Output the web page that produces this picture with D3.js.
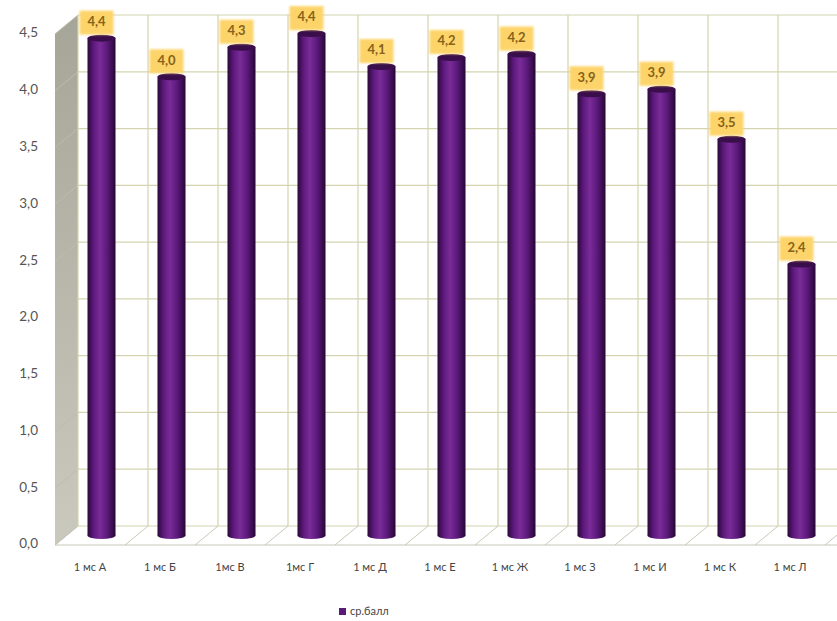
<!DOCTYPE html>
<html>
<head>
<meta charset="utf-8">
<script src="https://cdn.jsdelivr.net/npm/d3@7"></script>
<style>
  body { margin: 0; background: #fff; }
  svg { display: block; font-family: Lato, "Open Sans", sans-serif; }
</style>
</head>
<body>
<div class="graphContainer"></div>
<script>
var width = 837;
var height = 621;

// data
var categories = ["1 мс А", "1 мс Б", "1мс В", "1мс Г", "1 мс Д", "1 мс Е", "1 мс Ж", "1 мс З", "1 мс И", "1 мс К", "1 мс Л"];
var scores = [4.38, 4.04, 4.3, 4.42, 4.13, 4.21, 4.24, 3.89, 3.93, 3.49, 2.39];
var yTicks = [0, 0.5, 1, 1.5, 2, 2.5, 3, 3.5, 4, 4.5];
var seriesName = "ср.балл";

// 3d offsets: back wall -> front plane
var dx = -23, dy = 19;

var svg = d3.select(".graphContainer")
  .append("svg")
  .attr("width", width)
  .attr("height", height);

var defs = svg.append("defs");

var cyl = defs.append("linearGradient").attr("id", "cyl").attr("x1", 0).attr("x2", 1).attr("y1", 0).attr("y2", 0);
cyl.append("stop").attr("offset", "0%").attr("stop-color", "#2a0838");
cyl.append("stop").attr("offset", "22%").attr("stop-color", "#5e1a7e");
cyl.append("stop").attr("offset", "45%").attr("stop-color", "#7a2c98");
cyl.append("stop").attr("offset", "72%").attr("stop-color", "#581878");
cyl.append("stop").attr("offset", "100%").attr("stop-color", "#260634");

var wall = defs.append("linearGradient").attr("id", "wall").attr("x1", 0).attr("x2", 0).attr("y1", 0).attr("y2", 1);
wall.append("stop").attr("offset", "0%").attr("stop-color", "#a5a598");
wall.append("stop").attr("offset", "100%").attr("stop-color", "#c9c9bd");

defs.append("filter").attr("id", "soft")
  .attr("x", "-20%").attr("y", "-20%").attr("width", "140%").attr("height", "140%")
  .append("feGaussianBlur").attr("stdDeviation", 1.2);

// scales on the back wall
var xScale = d3.scaleBand().domain(categories).range([78, 848]);
var yScale = d3.scaleLinear().domain([0, 4.5]).range([526, 15]);
var bw = xScale.bandwidth();

// side wall
svg.append("path")
  .attr("d", "M" + (78 + dx) + "," + (yScale(4.5) + dy) + " L78," + yScale(4.5) +
    " L78," + yScale(0) + " L" + (78 + dx) + "," + (yScale(0) + dy) + "Z")
  .attr("fill", "url(#wall)");

var gridColor = "#d4d4b0";

// back wall horizontal gridlines
svg.selectAll(".hgrid")
  .data(yTicks)
  .enter()
  .append("line")
  .attr("x1", 78).attr("x2", width)
  .attr("y1", (d) => yScale(d)).attr("y2", (d) => yScale(d))
  .attr("stroke", gridColor).attr("stroke-width", 1.2);

// side wall gridlines
svg.selectAll(".sgrid")
  .data(yTicks)
  .enter()
  .append("line")
  .attr("x1", 78 + dx).attr("x2", 78)
  .attr("y1", (d) => yScale(d) + dy).attr("y2", (d) => yScale(d))
  .attr("stroke", "#bdbdae").attr("stroke-width", 1);

// back wall vertical gridlines
var bounds = categories.map((c) => xScale(c));
svg.selectAll(".vgrid")
  .data(bounds)
  .enter()
  .append("line")
  .attr("x1", (d) => d).attr("x2", (d) => d)
  .attr("y1", yScale(4.5)).attr("y2", yScale(0))
  .attr("stroke", gridColor).attr("stroke-width", 1.2);

// floor lines
svg.selectAll(".fgrid")
  .data(bounds.concat([xScale.range()[1]]))
  .enter()
  .append("line")
  .attr("x1", (d) => d + dx).attr("x2", (d) => d)
  .attr("y1", yScale(0) + dy).attr("y2", yScale(0))
  .attr("stroke", "#c8c8b8").attr("stroke-width", 1);
svg.append("line")
  .attr("x1", 78 + dx).attr("x2", width)
  .attr("y1", yScale(0) + dy).attr("y2", yScale(0) + dy)
  .attr("stroke", "#c8c8b8").attr("stroke-width", 1);

// cylinders
var cw = bw * 0.4;
var ry = 3.5;
var bars = svg.selectAll(".bar")
  .data(categories)
  .enter()
  .append("g")
  .attr("class", "bar");

bars.append("ellipse")
  .attr("cx", (d) => xScale(d) + bw / 2 + dx / 2)
  .attr("cy", yScale(0) + dy / 2)
  .attr("rx", cw / 2).attr("ry", ry)
  .attr("fill", "url(#cyl)");
bars.append("rect")
  .attr("x", (d) => xScale(d) + bw / 2 + dx / 2 - cw / 2)
  .attr("y", (d, i) => yScale(scores[i]) + dy / 2)
  .attr("width", cw)
  .attr("height", (d, i) => yScale(0) - yScale(scores[i]))
  .attr("fill", "url(#cyl)");
bars.append("ellipse")
  .attr("cx", (d) => xScale(d) + bw / 2 + dx / 2)
  .attr("cy", (d, i) => yScale(scores[i]) + dy / 2)
  .attr("rx", cw / 2).attr("ry", ry)
  .attr("fill", "#3a0e4a");

// data labels
var fmt = (v) => d3.format(".1f")(v).replace(".", ",");
bars.append("rect")
  .attr("x", (d) => xScale(d) + bw / 2 + dx / 2 - 5 - 17)
  .attr("y", (d, i) => yScale(scores[i]) + dy / 2 - ry - 24)
  .attr("width", 34).attr("height", 24)
  .attr("fill", "#fdd46a")
  .attr("filter", "url(#soft)");
bars.append("text")
  .attr("x", (d) => xScale(d) + bw / 2 + dx / 2 - 5)
  .attr("y", (d, i) => yScale(scores[i]) + dy / 2 - ry - 12)
  .attr("text-anchor", "middle")
  .attr("dominant-baseline", "middle")
  .style("font-size", "13px")
  .style("font-weight", "bold")
  .attr("fill", "#86621a")
  .text((d, i) => fmt(scores[i]));

// y axis labels
svg.selectAll(".ylab")
  .data(yTicks)
  .enter()
  .append("text")
  .attr("x", 38)
  .attr("y", (d) => yScale(d) + dy)
  .attr("text-anchor", "end")
  .attr("dominant-baseline", "middle")
  .style("font-size", "13.5px")
  .attr("fill", "#555")
  .text((d) => d3.format(".1f")(d).replace(".", ","));

// category labels
svg.selectAll(".xlab")
  .data(categories)
  .enter()
  .append("text")
  .attr("x", (d) => xScale(d) + bw / 2 + dx)
  .attr("y", 568)
  .attr("text-anchor", "middle")
  .attr("dominant-baseline", "middle")
  .style("font-size", "11px")
  .attr("fill", "#444")
  .text((d) => d);

// legend
svg.append("rect")
  .attr("x", 339).attr("y", 608)
  .attr("width", 7).attr("height", 7)
  .attr("fill", "#5a1a78");
svg.append("text")
  .attr("x", 350).attr("y", 612)
  .attr("dominant-baseline", "middle")
  .style("font-size", "11px")
  .attr("fill", "#444")
  .text(seriesName);
</script>
</body>
</html>
